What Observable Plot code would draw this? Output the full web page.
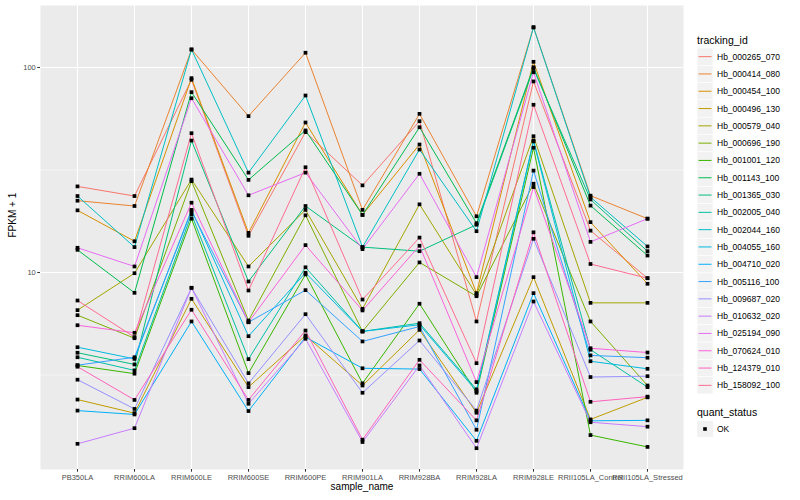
<!DOCTYPE html>
<html><head><meta charset="utf-8">
<script src="https://cdn.jsdelivr.net/npm/d3@7"></script>
<script src="https://cdn.jsdelivr.net/npm/@observablehq/plot@0.6"></script>
<style>
body{margin:0;background:#fff;font-family:"Liberation Sans",Arial,sans-serif;}
#wrap{display:flex;width:800px;height:500px;}
#chart,#legend{flex:none;}
</style></head><body><div id="wrap"><div id="chart"></div><div id="legend"></div></div>
<script>
const samples = ["PB350LA","RRIM600LA","RRIM600LE","RRIM600SE","RRIM600PE","RRIM901LA","RRIM928BA","RRIM928LA","RRIM928LE","RRII105LA_Control","RRII105LA_Stressed"];
const trackingIds = ["Hb_000265_070","Hb_000414_080","Hb_000454_100","Hb_000496_130","Hb_000579_040","Hb_000696_190","Hb_001001_120","Hb_001143_100","Hb_001365_030","Hb_002005_040","Hb_002044_160","Hb_004055_160","Hb_004710_020","Hb_005116_100","Hb_009687_020","Hb_010632_020","Hb_025194_090","Hb_070624_010","Hb_124379_010","Hb_158092_100"];
const yTicks = [10, 100];
const yMinor = [3.1623, 31.623];

// FPKM + 1 per tracking_id, in sample order
const Hb_000265_070 = [26.3, 23.6, 87.1, 15.1, 48.4, 26.6, 54.7, 5.77, 85.5, 16.0, 9.38];
const Hb_000414_080 = [22.4, 21.1, 122.4, 57.9, 118, 20.2, 59.4, 18.8, 157, 23.7, 18.3];
const Hb_000454_100 = [20.1, 14.2, 88.7, 15.6, 53.9, 19.1, 42.1, 7.93, 106.6, 17.6, 8.81];
const Hb_000496_130 = [2.40, 2.06, 7.44, 2.76, 4.93, 2.81, 5.25, 2.07, 9.49, 1.92, 2.46];
const Hb_000579_040 = [6.55, 9.92, 28.4, 10.7, 20.2, 6.65, 21.5, 7.79, 46.2, 7.11, 7.11];
const Hb_000696_190 = [6.19, 4.78, 27.9, 5.83, 19.0, 5.16, 11.2, 7.66, 27.1, 5.77, 2.81];
const Hb_001001_120 = [3.52, 3.21, 18.3, 3.23, 9.78, 2.88, 7.04, 2.59, 40.6, 1.61, 1.41];
const Hb_001143_100 = [12.9, 7.96, 75.8, 28.3, 49.3, 19.1, 51.1, 17.4, 100.3, 21.2, 12.1];
const Hb_001365_030 = [4.06, 3.56, 44.0, 9.04, 21.1, 13.3, 12.7, 17.1, 98.6, 22.7, 12.7];
const Hb_002005_040 = [3.86, 3.33, 19.2, 3.78, 10.6, 5.16, 5.66, 2.69, 44.0, 4.20, 2.76];
const Hb_002044_160 = [23.6, 13.3, 122.4, 30.7, 73.0, 13.3, 39.8, 15.9, 157, 23.3, 13.4];
const Hb_004055_160 = [4.32, 3.79, 20.2, 4.89, 9.97, 5.16, 5.56, 2.64, 43.6, 3.69, 3.39];
const Hb_004710_020 = [2.12, 2.03, 5.77, 2.11, 4.84, 3.41, 3.38, 1.51, 7.93, 1.89, 1.90];
const Hb_005116_100 = [3.53, 3.86, 19.9, 5.72, 8.20, 4.61, 5.45, 1.71, 31.4, 3.94, 3.84];
const Hb_009687_020 = [3.00, 2.16, 8.42, 2.88, 6.26, 2.59, 4.66, 2.12, 14.6, 3.09, 3.12];
const Hb_010632_020 = [1.46, 1.74, 8.42, 2.29, 4.75, 1.49, 3.52, 1.39, 7.22, 1.86, 1.77];
const Hb_025194_090 = [13.2, 10.7, 70.8, 23.8, 30.7, 13.0, 30.3, 9.49, 94.8, 14.1, 18.3];
const Hb_070624_010 = [5.53, 5.08, 21.9, 5.72, 13.6, 6.53, 13.5, 2.92, 26.1, 4.27, 4.07];
const Hb_124379_010 = [3.47, 2.39, 6.58, 2.39, 5.21, 1.53, 3.75, 1.90, 15.7, 2.34, 2.48];
const Hb_158092_100 = [7.30, 4.84, 47.8, 8.17, 32.6, 7.38, 14.8, 3.61, 65.8, 11.0, 9.38];

const seriesValues = [Hb_000265_070,Hb_000414_080,Hb_000454_100,Hb_000496_130,Hb_000579_040,Hb_000696_190,Hb_001001_120,Hb_001143_100,Hb_001365_030,Hb_002005_040,Hb_002044_160,Hb_004055_160,Hb_004710_020,Hb_005116_100,Hb_009687_020,Hb_010632_020,Hb_025194_090,Hb_070624_010,Hb_124379_010,Hb_158092_100];
const palette = ["#F8766D","#EA8331","#D89000","#C09B00","#A3A500","#7CAE00","#39B600","#00BB4E","#00BF7D","#00C1A3","#00BFC4","#00BAE0","#00B0F6","#35A2FF","#9590FF","#C77CFF","#E76BF3","#FA62DB","#FF62BC","#FF6C91"];

const rows = [];
trackingIds.forEach((id, i) => seriesValues[i].forEach((v, j) => rows.push({tracking_id: id, sample_name: samples[j], fpkm: v, quant_status: "OK"})));

const chart = Plot.plot({
  width: 690, height: 500,
  marginLeft: 40, marginRight: 7, marginTop: 5, marginBottom: 31,
  style: {fontFamily: "'Liberation Sans', Arial, sans-serif", fontSize: "7.5px", color: "#4D4D4D", background: "#fff"},
  x: {type: "point", domain: samples, padding: 0.6},
  y: {type: "log", domain: [1.094, 200.6]},
  color: {domain: trackingIds, range: palette},
  marks: [
    Plot.frame({fill: "#EBEBEB", stroke: null}),
    Plot.ruleY(yMinor, {stroke: "#fff", strokeWidth: 0.55}),
    Plot.ruleY(yTicks, {stroke: "#fff", strokeWidth: 1.1}),
    Plot.ruleX(samples, {x: d => d, stroke: "#fff", strokeWidth: 1.1}),
    Plot.axisX({tickSize: 2.75, tickPadding: 2, label: null, stroke: "#333"}),
    Plot.axisY({ticks: yTicks, tickFormat: d => String(d), tickSize: 2.75, tickPadding: 2, label: null, stroke: "#333"}),
    Plot.line(rows, {x: "sample_name", y: "fpkm", z: "tracking_id", stroke: "tracking_id", strokeWidth: 1}),
    Plot.dot(rows, {x: "sample_name", y: "fpkm", symbol: "square", r: 2.1, fill: "#000", stroke: null}),
    Plot.text(["sample_name"], {frameAnchor: "bottom", dy: 20, fontSize: 10, fill: "#000"}),
    Plot.text(["FPKM + 1"], {frameAnchor: "left", dx: -28, rotate: -90, fontSize: 10, fill: "#000"})
  ]
});
document.getElementById("chart").appendChild(chart);

// legend
const lg = d3.select("#legend").append("svg").attr("width", 110).attr("height", 500)
  .style("font-family", "'Liberation Sans', Arial, sans-serif");
lg.append("text").attr("x", 7).attr("y", 44).attr("font-size", 10.5).attr("fill", "#000").text("tracking_id");
const keyH = 17.3, key0 = 48;
trackingIds.forEach((id, i) => {
  const y = key0 + keyH * i;
  lg.append("rect").attr("x", 7).attr("y", y).attr("width", 16).attr("height", keyH).attr("fill", "#F2F2F2").attr("stroke", "#fff").attr("stroke-width", 0.6);
  lg.append("line").attr("x1", 8.5).attr("x2", 21.5).attr("y1", y + keyH / 2).attr("y2", y + keyH / 2).attr("stroke", palette[i]).attr("stroke-width", 1);
  lg.append("text").attr("x", 27).attr("y", y + keyH / 2).attr("dy", "0.35em").attr("font-size", 8.5).attr("fill", "#000").text(id);
});
lg.append("text").attr("x", 7).attr("y", 416).attr("font-size", 10.5).attr("fill", "#000").text("quant_status");
lg.append("rect").attr("x", 7).attr("y", 421).attr("width", 16).attr("height", 16).attr("fill", "#F2F2F2");
lg.append("rect").attr("x", 13.2).attr("y", 427.2).attr("width", 3.6).attr("height", 3.6).attr("fill", "#000");
lg.append("text").attr("x", 27).attr("y", 429).attr("dy", "0.35em").attr("font-size", 8.5).attr("fill", "#000").text("OK");
</script></body></html>
